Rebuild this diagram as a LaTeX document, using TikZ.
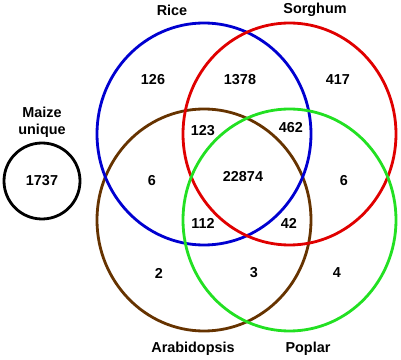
\documentclass[tikz,border=0pt]{standalone}
\usepackage{fontspec}
\setmainfont{Liberation Sans}
\usepackage{xcolor}
\definecolor{vennBlue}{HTML}{0000D0}
\definecolor{vennRed}{HTML}{E00000}
\definecolor{vennBrown}{HTML}{663300}
\definecolor{vennGreen}{HTML}{22E022}
\usetikzlibrary{positioning}

\begin{document}
\begin{tikzpicture}[x=0.75pt,y=-0.75pt,font=\fontsize{10.8}{12.5}\selectfont\bfseries]
  \tikzset{
    vennring/.style={line width=2.1pt},
    countlab/.style={inner sep=0pt},
    setlab/.style={inner sep=0pt, align=center}
  }
  \path[use as bounding box] (0,0) rectangle (401,360);

  % set outlines
  \draw[vennring,vennBrown] (204,220) ellipse [x radius=107,y radius=111];
  \draw[vennring,vennBlue] (204,134) ellipse [x radius=107,y radius=111];
  \draw[vennring,vennRed] (289.5,134) ellipse [x radius=106.5,y radius=111];
  \draw[vennring,vennGreen] (289.5,220) ellipse [x radius=106.5,y radius=111];
  \draw[vennring,black] (42,181) circle [radius=38];

  % set names
  \node[setlab] (rice) at (172,10) {Rice};
  \node[setlab] (sorghum) at (315,10) {Sorghum};
  \node[setlab] (arabid) at (193,349) {Arabidopsis};
  \node[setlab] (poplar) at (308,349) {Poplar};
  \node[setlab] (maize) at (42,122) {Maize\\unique};

  % counts
  \node[countlab] (nmaize) at (42,181) {1737};
  \node[countlab] (nrice) at (153,80) {126};
  \node[countlab] (nrs) at (240,80) {1378};
  \node[countlab] (nsorg) at (338,80) {417};
  \node[countlab] (nrsa) at (203,131) {123};
  \node[countlab] (nrsp) at (291,128) {462};
  \node[countlab] (nra) at (152,181) {6};
  \node[countlab] (nall) at (243,177) {22874};
  \node[countlab] (nsp) at (344,181) {6};
  \node[countlab] (nrap) at (203,223) {112};
  \node[countlab] (nsap) at (289,223) {42};
  \node[countlab] (narab) at (159,273) {2};
  \node[countlab] (nap) at (254,273) {3};
  \node[countlab] (npop) at (337,273) {4};
\end{tikzpicture}
\end{document}
